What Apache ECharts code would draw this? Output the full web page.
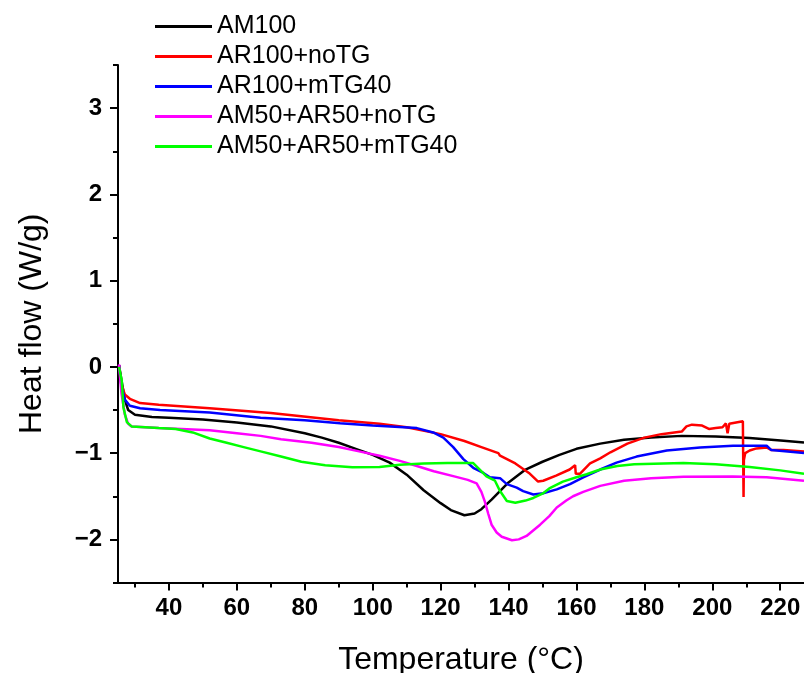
<!DOCTYPE html>
<html>
<head>
<meta charset="utf-8">
<script src="https://cdn.jsdelivr.net/npm/echarts@6/dist/echarts.min.js"></script>
<style>
html,body{margin:0;padding:0;background:#fff;}
#chart{width:804px;height:673px;}
</style>
</head>
<body>
<div id="chart"></div>
<script>
	// AM100
	var am100_t = [25.3, 26, 27, 28, 30, 35, 40, 50, 60, 70, 80, 85, 90, 95, 100, 105, 110, 115, 120, 123, 127, 130, 132, 135, 140, 145, 150, 155, 160, 167, 174, 182, 191, 201, 211, 221, 227];
	var am100_v = [0.02, -0.15, -0.38, -0.5, -0.555, -0.58, -0.59, -0.61, -0.645, -0.69, -0.77, -0.82, -0.88, -0.95, -1.02, -1.11, -1.25, -1.43, -1.58, -1.66, -1.72, -1.7, -1.65, -1.54, -1.34, -1.19, -1.1, -1.02, -0.95, -0.89, -0.845, -0.82, -0.8, -0.807, -0.826, -0.857, -0.877];
	// AR100+noTG
	var ar_no_t = [25.3, 26, 27, 28.5, 31.5, 37, 52, 70, 90, 102, 110, 120, 127, 132, 137, 137.5, 142, 146, 148.7, 150.2, 154, 158, 159.6, 159.8, 161, 164, 167, 170, 175, 180, 185, 191, 192.4, 194, 197, 199, 201, 203, 204, 204.5, 205, 207, 209, 209.2, 209.3, 209.7, 211, 213, 216, 217.4, 221, 227];
	var ar_no_v = [0.02, -0.2, -0.32, -0.37, -0.42, -0.44, -0.48, -0.535, -0.62, -0.66, -0.7, -0.78, -0.86, -0.93, -1.0, -1.03, -1.12, -1.23, -1.33, -1.32, -1.26, -1.19, -1.14, -1.24, -1.24, -1.12, -1.06, -0.99, -0.89, -0.82, -0.78, -0.75, -0.69, -0.67, -0.68, -0.72, -0.71, -0.7, -0.655, -0.77, -0.66, -0.645, -0.63, -1.51, -1.08, -1.0, -0.97, -0.945, -0.935, -0.965, -0.965, -0.98];
	// AR100+mTG40
	var ar_mtg_t = [25.3, 26, 27, 28.5, 31.5, 37.4, 52, 67, 80, 90.4, 100, 113, 117.8, 120.8, 123.7, 126.7, 129.6, 132.6, 134.5, 137.5, 139.5, 142.4, 144.3, 147.3, 150.2, 154.2, 158.1, 162, 167, 171.8, 177.7, 186.6, 196.4, 206.1, 216, 217.4, 227];
	var ar_mtg_v = [0.02, -0.22, -0.38, -0.45, -0.48, -0.5, -0.53, -0.59, -0.62, -0.655, -0.68, -0.71, -0.76, -0.82, -0.93, -1.07, -1.17, -1.23, -1.28, -1.29, -1.36, -1.4, -1.44, -1.48, -1.465, -1.42, -1.36, -1.28, -1.19, -1.11, -1.04, -0.97, -0.935, -0.915, -0.915, -0.965, -1.0];
	// AM50+AR50+noTG
	var mix_no_t = [25.3, 26, 27, 28, 29, 37, 52, 60, 67, 73, 82, 90, 96, 102, 108, 113, 118, 124, 128, 130.6, 132, 133, 134, 135, 136.5, 138, 141, 143, 145.3, 149.3, 152, 154.2, 157, 159, 162, 167, 174, 182, 191.5, 206, 216, 227];
	var mix_no_v = [0.03, -0.3, -0.55, -0.66, -0.69, -0.71, -0.735, -0.77, -0.8, -0.84, -0.88, -0.93, -0.98, -1.03, -1.09, -1.15, -1.21, -1.27, -1.31, -1.35, -1.45, -1.56, -1.7, -1.83, -1.92, -1.97, -2.01, -2.0, -1.96, -1.83, -1.73, -1.63, -1.55, -1.5, -1.45, -1.38, -1.32, -1.29, -1.275, -1.27, -1.28, -1.32];
	// AM50+AR50+mTG40
	var mix_mtg_t = [25.3, 26.1, 26.6, 27.6, 29, 37, 42, 47, 52, 57, 62, 67, 73, 79, 86, 94, 102, 108, 115, 122, 129.6, 131, 133.5, 136, 137.5, 139.5, 142, 145, 147.3, 150, 152, 156, 160, 163, 167, 172, 177, 191.5, 201, 211, 220, 227];
	var mix_mtg_v = [0.0, -0.16, -0.47, -0.64, -0.69, -0.71, -0.72, -0.76, -0.83, -0.88, -0.93, -0.98, -1.04, -1.1, -1.14, -1.165, -1.16, -1.135, -1.12, -1.115, -1.115, -1.17, -1.27, -1.32, -1.44, -1.555, -1.575, -1.55, -1.52, -1.47, -1.41, -1.33, -1.28, -1.245, -1.19, -1.15, -1.13, -1.115, -1.13, -1.16, -1.2, -1.24];

	var names = ['AM100', 'AR100+noTG', 'AR100+mTG40', 'AM50+AR50+noTG', 'AM50+AR50+mTG40'];
	var colors = ['#000000', '#ff0000', '#0000ff', '#ff00ff', '#00ff00'];

	// tick positions
	var x_major = [40, 60, 80, 100, 120, 140, 160, 180, 200, 220];
	var x_minor = [30, 50, 70, 90, 110, 130, 150, 170, 190, 210];
	var y_major = [-2, -1, 0, 1, 2, 3];
	var y_minor = [-2.5, -1.5, -0.5, 0.5, 1.5, 2.5, 3.5];

	function pairs(t, v){
		var out = [];
		for(var i = 0; i < t.length; i++){
			out.push([t[i], v[i]]);
		}
		return out;
	}

	var font = '"Liberation Sans", Arial, sans-serif';
	var all_t = [am100_t, ar_no_t, ar_mtg_t, mix_no_t, mix_mtg_t];
	var all_v = [am100_v, ar_no_v, ar_mtg_v, mix_no_v, mix_mtg_v];
	var series = [];
	for(var i = 0; i < names.length; i++){
		series.push({
			name: names[i],
			type: 'line',
			symbol: 'none',
			color: colors[i],
			lineStyle: {width: 2.5, color: colors[i]},
			data: pairs(all_t[i], all_v[i])
		});
	}

	var chart = echarts.init(document.getElementById('chart'));
	chart.setOption({
		animation: false,
		backgroundColor: '#fff',
		grid: {left: 118, right: 0, top: 65, bottom: 90.5, outerBoundsMode: 'none'},
		legend: {
			orient: 'vertical',
			left: 155,
			top: 14,
			padding: 0,
			icon: 'rect',
			itemWidth: 57,
			itemHeight: 3,
			itemGap: 5,
			itemTextGap: 5,
			textStyle: {fontSize: 25, color: '#000', fontFamily: font},
			data: names
		},
		xAxis: [{
			type: 'value',
			min: 25,
			max: 227,
			position: 'bottom',
			name: 'Temperature (°C)',
			nameLocation: 'middle',
			nameGap: 62,
			nameTextStyle: {fontSize: 32, color: '#000', fontFamily: font},
			axisLine: {show: true, onZero: false, lineStyle: {color: '#000', width: 2}},
			axisTick: {show: true, customValues: x_major, length: 8, lineStyle: {color: '#000', width: 2}},
			axisLabel: {customValues: x_major, fontSize: 24, fontWeight: 'bold', color: '#000', margin: 14, fontFamily: font},
			splitLine: {show: false}
		}, {
			type: 'value',
			min: 25,
			max: 227,
			position: 'bottom',
			offset: 0,
			axisLine: {show: false, onZero: false},
			axisTick: {show: true, customValues: x_minor, length: 5, lineStyle: {color: '#000', width: 2}},
			axisLabel: {show: false, customValues: x_minor},
			splitLine: {show: false}
		}],
		yAxis: [{
			type: 'value',
			min: -2.5,
			max: 3.5,
			position: 'left',
			name: 'Heat flow (W/g)',
			nameLocation: 'middle',
			nameGap: 70,
			nameTextStyle: {fontSize: 32, color: '#000', fontFamily: font},
			axisLine: {show: true, onZero: false, lineStyle: {color: '#000', width: 2}},
			axisTick: {show: true, customValues: y_major, length: 8, lineStyle: {color: '#000', width: 2}},
			axisLabel: {
				customValues: y_major, fontSize: 24, fontWeight: 'bold', color: '#000', margin: 16, fontFamily: font,
				formatter: function(v){ return String(v).replace('-', '\u2212'); }
			},
			splitLine: {show: false}
		}, {
			type: 'value',
			min: -2.5,
			max: 3.5,
			position: 'left',
			offset: 0,
			axisLine: {show: false, onZero: false},
			axisTick: {show: true, customValues: y_minor, length: 5, lineStyle: {color: '#000', width: 2}},
			axisLabel: {show: false, customValues: y_minor},
			splitLine: {show: false}
		}],
		series: series
	});
</script>
</body>
</html>
